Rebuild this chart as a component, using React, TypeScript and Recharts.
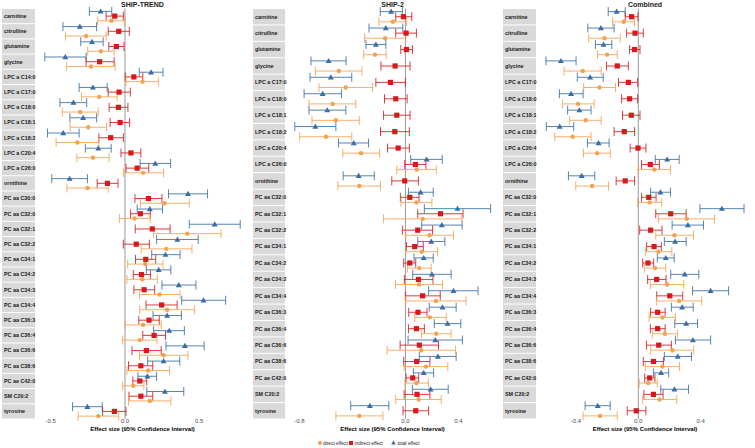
import React from "react";
import { ScatterChart, Scatter, XAxis, YAxis, ErrorBar, ReferenceLine } from "recharts";

const BLUE = "#3a6ea5";
const RED = "#d7191c";
const ORANGE = "#f5a250";
const FONT = "'Liberation Sans', Arial, sans-serif";

// metabolites shown in SHIP-TREND
const trendRows = [
	"carnitine", "citrulline", "glutamine", "glycine", "LPC a C14:0", "LPC a C17:0", "LPC a C18:0",
	"LPC a C18:1", "LPC a C18:2", "LPC a C20:4", "LPC a C26:0", "ornithine", "PC aa C30:0", "PC aa C32:0",
	"PC aa C32:1", "PC aa C32:2", "PC aa C34:1", "PC aa C34:2", "PC aa C34:3", "PC aa C34:4", "PC aa C36:3",
	"PC aa C36:4", "PC aa C36:6", "PC aa C38:6", "PC ae C42:0", "SM C20:2", "tyrosine",
];

// metabolites shown in SHIP-2 and Combined
const otherRows = [
	"carnitine", "citrulline", "glutamine", "glycine", "LPC a C17:0", "LPC a C18:0", "LPC a C18:1",
	"LPC a C18:2", "LPC a C20:4", "LPC a C26:0", "ornithine", "PC aa C32:0", "PC aa C32:1", "PC aa C32:2",
	"PC aa C34:1", "PC aa C34:2", "PC aa C34:3", "PC aa C34:4", "PC aa C36:3", "PC aa C36:4", "PC aa C36:6",
	"PC aa C38:6", "PC ae C42:0", "SM C20:2", "tyrosine",
];

// [estimate, lower CI, upper CI]
const trendTotal = [
	[-0.164, -0.24, -0.089], [-0.304, -0.418, -0.191], [-0.222, -0.298, -0.147], [-0.402, -0.54, -0.262],
	[0.176, 0.096, 0.256], [-0.216, -0.309, -0.12], [-0.347, -0.438, -0.258], [-0.282, -0.371, -0.191],
	[-0.416, -0.522, -0.309], [-0.18, -0.267, -0.093], [0.204, 0.102, 0.307], [-0.373, -0.493, -0.253],
	[0.424, 0.293, 0.556], [0.167, 0.082, 0.253], [0.604, 0.433, 0.776], [0.353, 0.213, 0.493],
	[0.273, 0.18, 0.371], [0.227, 0.144, 0.309], [0.362, 0.249, 0.478], [0.529, 0.382, 0.678],
	[0.284, 0.189, 0.38], [0.298, 0.193, 0.4], [0.404, 0.276, 0.533], [0.26, 0.153, 0.369],
	[0.151, 0.087, 0.213], [0.269, 0.147, 0.396], [-0.253, -0.353, -0.153],
];
const trendIndirect = [
	[-0.069, -0.127, -0.011], [-0.042, -0.113, 0.029], [-0.058, -0.109, -0.007], [-0.171, -0.262, -0.073],
	[0.06, 0.002, 0.12], [-0.04, -0.113, 0.036], [-0.044, -0.107, 0.02], [-0.033, -0.1, 0.031],
	[-0.096, -0.176, -0.011], [0.04, -0.027, 0.107], [0.082, 0.007, 0.16], [-0.118, -0.187, -0.047],
	[0.158, 0.067, 0.249], [0.104, 0.038, 0.171], [0.184, 0.069, 0.304], [0.076, -0.011, 0.164],
	[0.14, 0.071, 0.207], [0.111, 0.056, 0.171], [0.129, 0.06, 0.2], [0.247, 0.142, 0.351],
	[0.162, 0.093, 0.231], [0.196, 0.12, 0.273], [0.144, 0.047, 0.244], [0.107, 0.024, 0.187],
	[0.1, 0.053, 0.147], [0.107, 0.027, 0.187], [-0.071, -0.151, 0.007],
];
const trendDirect = [
	[-0.091, -0.184, 0.0], [-0.262, -0.4, -0.127], [-0.162, -0.251, -0.073], [-0.229, -0.393, -0.067],
	[0.118, 0.007, 0.227], [-0.173, -0.293, -0.053], [-0.302, -0.422, -0.18], [-0.247, -0.369, -0.124],
	[-0.32, -0.464, -0.176], [-0.216, -0.324, -0.107], [0.122, -0.011, 0.26], [-0.253, -0.391, -0.113],
	[0.267, 0.104, 0.433], [0.064, -0.038, 0.169], [0.42, 0.193, 0.647], [0.278, 0.109, 0.451],
	[0.136, 0.018, 0.256], [0.116, 0.013, 0.218], [0.233, 0.098, 0.371], [0.284, 0.1, 0.469],
	[0.122, 0.0, 0.244], [0.1, -0.016, 0.216], [0.26, 0.098, 0.424], [0.156, 0.013, 0.3],
	[0.056, -0.016, 0.127], [0.167, 0.024, 0.309], [-0.18, -0.316, -0.042],
];

const ship2Total = [
	[-0.108, -0.19, -0.023], [-0.148, -0.275, -0.02], [-0.223, -0.298, -0.148], [-0.58, -0.713, -0.448],
	[-0.563, -0.72, -0.405], [-0.625, -0.765, -0.483], [-0.59, -0.728, -0.45], [-0.68, -0.835, -0.525],
	[-0.39, -0.505, -0.278], [0.16, 0.04, 0.278], [-0.353, -0.47, -0.235], [0.115, 0.023, 0.21],
	[0.393, 0.143, 0.643], [0.275, 0.123, 0.428], [0.195, 0.093, 0.298], [0.138, 0.065, 0.21],
	[0.2, 0.055, 0.345], [0.363, 0.175, 0.548], [0.28, 0.18, 0.383], [0.318, 0.218, 0.418],
	[0.225, 0.02, 0.43], [0.245, 0.105, 0.383], [0.138, 0.06, 0.213], [0.19, 0.053, 0.323],
	[-0.268, -0.413, -0.125],
];
const ship2Indirect = [
	[-0.015, -0.073, 0.048], [0.005, -0.073, 0.083], [0.008, -0.035, 0.053], [-0.078, -0.185, 0.035],
	[-0.113, -0.223, 0.0], [-0.073, -0.158, 0.013], [-0.065, -0.165, 0.035], [-0.08, -0.188, 0.03],
	[-0.055, -0.135, 0.03], [0.075, -0.005, 0.155], [-0.005, -0.103, 0.098], [0.033, -0.038, 0.103],
	[0.265, 0.093, 0.435], [0.093, -0.023, 0.205], [0.07, 0.008, 0.135], [0.033, -0.013, 0.078],
	[0.098, -0.008, 0.208], [0.13, 0.0, 0.263], [0.095, 0.025, 0.163], [0.083, 0.023, 0.143],
	[0.105, -0.04, 0.25], [0.085, -0.013, 0.185], [0.055, 0.005, 0.1], [0.088, -0.01, 0.185],
	[0.078, -0.018, 0.175],
];
const ship2Direct = [
	[-0.095, -0.2, 0.01], [-0.153, -0.308, 0.003], [-0.23, -0.315, -0.145], [-0.503, -0.68, -0.328],
	[-0.45, -0.653, -0.248], [-0.55, -0.728, -0.375], [-0.525, -0.705, -0.348], [-0.6, -0.798, -0.405],
	[-0.335, -0.473, -0.195], [0.085, -0.065, 0.233], [-0.348, -0.51, -0.188], [0.083, -0.033, 0.2],
	[0.13, -0.165, 0.425], [0.183, 0.003, 0.363], [0.123, 0.003, 0.243], [0.105, 0.015, 0.195],
	[0.103, -0.075, 0.28], [0.23, 0.003, 0.458], [0.185, 0.07, 0.308], [0.233, 0.12, 0.345],
	[0.12, -0.138, 0.378], [0.155, -0.01, 0.32], [0.083, -0.003, 0.173], [0.1, -0.073, 0.27],
	[-0.348, -0.525, -0.17],
];

const combTotal = [
	[-0.139, -0.193, -0.084], [-0.24, -0.324, -0.155], [-0.223, -0.275, -0.17], [-0.496, -0.592, -0.399],
	[-0.309, -0.391, -0.225], [-0.431, -0.506, -0.354], [-0.378, -0.453, -0.303], [-0.504, -0.59, -0.414],
	[-0.255, -0.326, -0.187], [0.185, 0.109, 0.262], [-0.363, -0.448, -0.279], [0.142, 0.079, 0.206],
	[0.536, 0.395, 0.678], [0.318, 0.217, 0.418], [0.236, 0.167, 0.307], [0.176, 0.122, 0.23],
	[0.298, 0.208, 0.388], [0.464, 0.348, 0.579], [0.281, 0.212, 0.352], [0.307, 0.234, 0.38],
	[0.35, 0.238, 0.464], [0.253, 0.167, 0.341], [0.146, 0.097, 0.195], [0.232, 0.144, 0.322],
	[-0.26, -0.341, -0.18],
];
const combIndirect = [
	[-0.043, -0.084, -0.002], [-0.021, -0.075, 0.032], [-0.024, -0.056, 0.011], [-0.135, -0.204, -0.064],
	[-0.064, -0.127, -0.004], [-0.056, -0.107, -0.004], [-0.045, -0.101, 0.011], [-0.09, -0.155, -0.024],
	[-0.002, -0.052, 0.049], [0.077, 0.021, 0.135], [-0.084, -0.142, -0.024], [0.067, 0.021, 0.114],
	[0.208, 0.112, 0.307], [0.079, 0.009, 0.152], [0.101, 0.054, 0.148], [0.062, 0.028, 0.099],
	[0.118, 0.06, 0.178], [0.202, 0.118, 0.285], [0.124, 0.079, 0.172], [0.124, 0.077, 0.172],
	[0.131, 0.052, 0.212], [0.097, 0.032, 0.161], [0.073, 0.041, 0.107], [0.097, 0.036, 0.159],
	[-0.013, -0.071, 0.049],
];
const combDirect = [
	[-0.094, -0.165, -0.024], [-0.217, -0.318, -0.116], [-0.2, -0.262, -0.135], [-0.356, -0.476, -0.238],
	[-0.249, -0.35, -0.146], [-0.386, -0.485, -0.283], [-0.337, -0.44, -0.238], [-0.421, -0.536, -0.303],
	[-0.264, -0.352, -0.18], [0.103, 0.0, 0.206], [-0.296, -0.401, -0.191], [0.073, -0.004, 0.15],
	[0.311, 0.129, 0.489], [0.232, 0.112, 0.354], [0.129, 0.045, 0.215], [0.107, 0.039, 0.176],
	[0.185, 0.077, 0.292], [0.262, 0.116, 0.406], [0.155, 0.069, 0.238], [0.17, 0.09, 0.251],
	[0.219, 0.079, 0.356], [0.155, 0.045, 0.264], [0.064, 0.006, 0.122], [0.137, 0.028, 0.247],
	[-0.245, -0.354, -0.135],
];

const trendTicks = [-0.5, 0, 0.5];
const ship2Ticks = [-0.8, 0, 0.4];
const combTicks = [-0.4, 0, 0.4];

const PLOT_TOP = 8.5;
const PLOT_BOTTOM = 419;
const H = 448;

// turn [est, lo, hi] rows into scatter points with x error offsets
const toPoints = (vals: number[][], shift: number) =>
	vals.map((v, i) => ({ x: v[0], y: i + shift, err: [v[0] - v[1], v[2] - v[0]] }));

const Tri = (p: any) => (
	<path d={`M${p.cx},${p.cy - 3}L${p.cx + 3},${p.cy + 2.2}L${p.cx - 3},${p.cy + 2.2}Z`} fill={BLUE} />
);
const Sq = (p: any) => <rect x={p.cx - 2.6} y={p.cy - 2.6} width={5.2} height={5.2} fill={RED} />;
const Dot = (p: any) => <circle cx={p.cx} cy={p.cy} r={2.2} fill={ORANGE} />;

const StripTick = (props: any) => {
	const { y, payload, rows, rowH, stripW } = props;
	return (
		<g>
			<rect x={2} y={y - rowH / 2 + 0.5} width={stripW} height={rowH - 1} fill="#d9d9d9" />
			<text x={4} y={y} dy="0.35em" fontSize={5.4} fontWeight="bold" fill="#1a1a1a" fontFamily={FONT}>
				{rows[payload.value]}
			</text>
		</g>
	);
};

interface PanelProps {
	rows: string[];
	total: number[][];
	indirect: number[][];
	direct: number[][];
	domain: number[];
	ticks: number[];
	left: number;
	width: number;
	stripW: number;
	right: number;
}

const Panel = ({ rows, total, indirect, direct, domain, ticks, left, width, stripW, right }: PanelProps) => {
	const rowH = (PLOT_BOTTOM - PLOT_TOP) / rows.length;
	return (
		<div style={{ position: "absolute", left, top: 0 }}>
			<ScatterChart width={width} height={H} margin={{ top: PLOT_TOP, right, bottom: 0, left: 2 }}>
				<XAxis
					type="number"
					dataKey="x"
					domain={domain}
					ticks={ticks}
					tickFormatter={(v: number) => v.toFixed(1)}
					axisLine={false}
					tickLine={false}
					tickSize={0}
					tickMargin={0}
					height={H - PLOT_BOTTOM}
					tick={{ fontSize: 6, fill: "#4d4d4d", fontFamily: FONT }}
					label={{
						value: "Effect size (95% Confidence Interval)",
						position: "insideBottom",
						offset: 17,
						fontSize: 6,
						fontWeight: "bold",
						fill: "#000",
						fontFamily: FONT,
					}}
				/>
				<YAxis
					type="number"
					dataKey="y"
					domain={[-0.5, rows.length - 0.5]}
					reversed
					ticks={rows.map((_, i) => i)}
					interval={0}
					width={stripW}
					axisLine={false}
					tickLine={false}
					tick={<StripTick rows={rows} rowH={rowH} stripW={stripW} />}
				/>
				<ReferenceLine x={0} stroke="#9a9a9a" strokeWidth={1} />
				<Scatter data={toPoints(total, -0.31)} shape={Tri} isAnimationActive={false}>
					<ErrorBar dataKey="err" direction="x" width={4.5} stroke={BLUE} strokeOpacity={0.85} strokeWidth={1} isAnimationActive={false} />
				</Scatter>
				<Scatter data={toPoints(indirect, 0)} shape={Sq} isAnimationActive={false}>
					<ErrorBar dataKey="err" direction="x" width={4.5} stroke={RED} strokeOpacity={0.85} strokeWidth={1} isAnimationActive={false} />
				</Scatter>
				<Scatter data={toPoints(direct, 0.31)} shape={Dot} isAnimationActive={false}>
					<ErrorBar dataKey="err" direction="x" width={4.5} stroke={ORANGE} strokeOpacity={0.85} strokeWidth={1} isAnimationActive={false} />
				</Scatter>
			</ScatterChart>
		</div>
	);
};

const App = () => {
	return (
		<div style={{ position: "absolute", left: 0, top: 0, width: 755, height: H, background: "#fff", overflow: "hidden" }}>
			<Panel rows={trendRows} total={trendTotal} indirect={trendIndirect} direct={trendDirect}
				domain={[-0.606, 0.842]} ticks={trendTicks} left={0} width={250} stripW={33} right={0} />
			<Panel rows={otherRows} total={ship2Total} indirect={ship2Indirect} direct={ship2Direct}
				domain={[-0.909, 0.714]} ticks={ship2Ticks} left={251} width={249} stripW={32} right={0} />
			<Panel rows={otherRows} total={combTotal} indirect={combIndirect} direct={combDirect}
				domain={[-0.656, 0.742]} ticks={combTicks} left={501} width={254} stripW={33} right={1} />
			<svg width={755} height={H} style={{ position: "absolute", left: 0, top: 0, pointerEvents: "none" }} fontFamily={FONT}>
				<text x={142.5} y={5} dy="0.35em" textAnchor="middle" fontSize={7} fontWeight="bold" fill="#1a1a1a">SHIP-TREND</text>
				<text x={392.5} y={5} dy="0.35em" textAnchor="middle" fontSize={7} fontWeight="bold" fill="#1a1a1a">SHIP-2</text>
				<text x={645} y={5} dy="0.35em" textAnchor="middle" fontSize={7} fontWeight="bold" fill="#1a1a1a">Combined</text>
				<circle cx={320} cy={443} r={2} fill={ORANGE} />
				<text x={323} y={443} dy="0.35em" fontSize={4.8} fill="#1a1a1a">direct effect</text>
				<rect x={349} y={441} width={4} height={4} fill={RED} />
				<text x={354.5} y={443} dy="0.35em" fontSize={4.8} fill="#1a1a1a">indirect effect</text>
				<path d="M393.5,440.5L395.8,444.6L391.2,444.6Z" fill={BLUE} />
				<text x={397.5} y={443} dy="0.35em" fontSize={4.8} fill="#1a1a1a">total effect</text>
			</svg>
		</div>
	);
};

export default App;
